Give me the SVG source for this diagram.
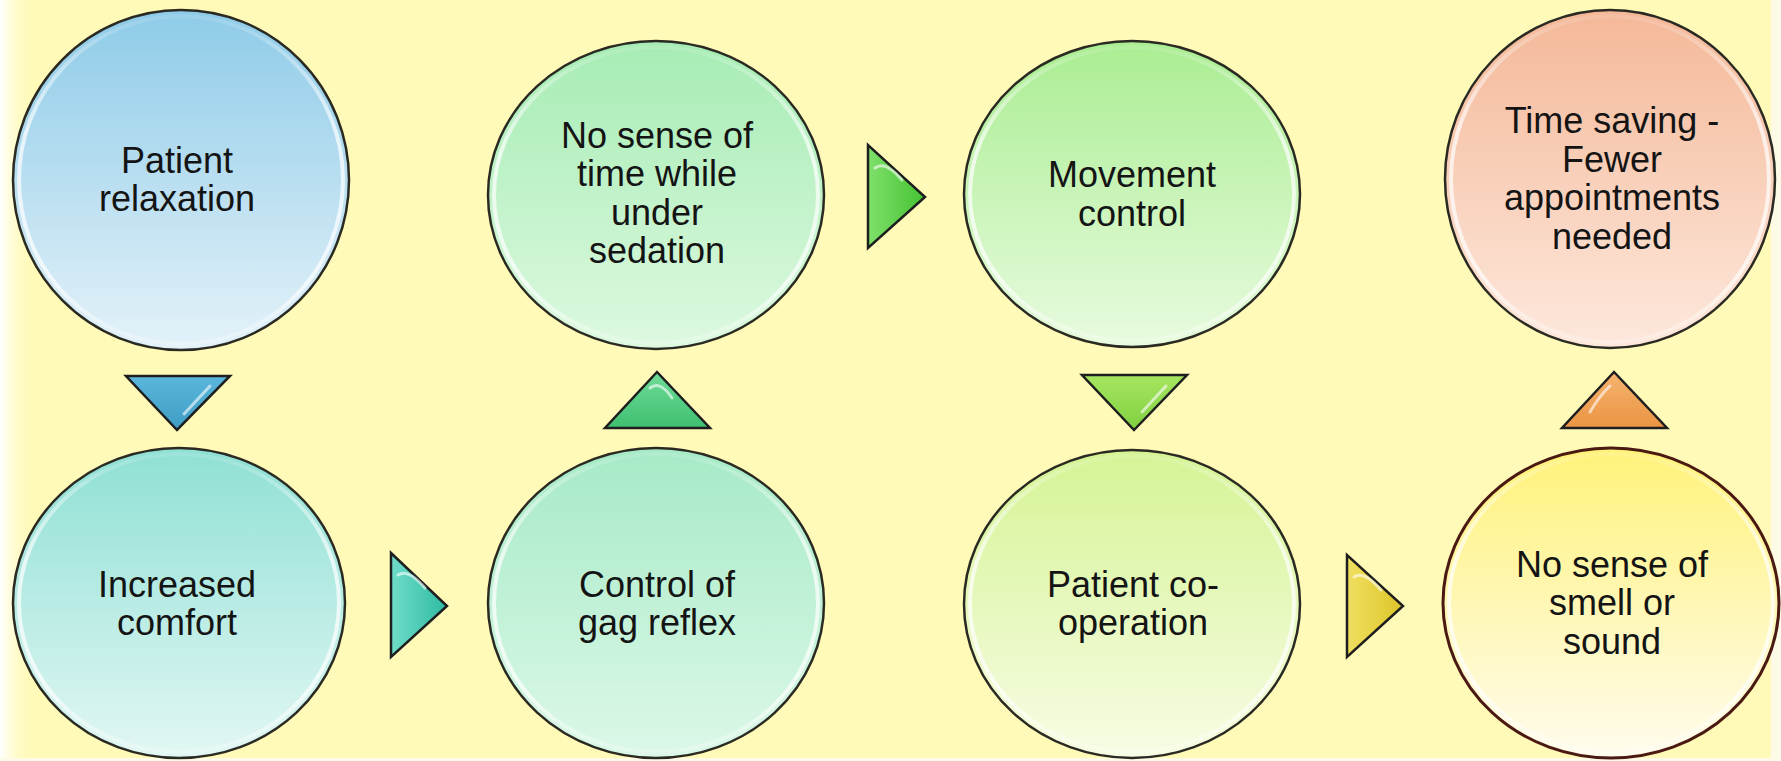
<svg xmlns="http://www.w3.org/2000/svg" width="1781" height="761" viewBox="0 0 1781 761">
<defs>
<style>
.c{stroke:#2a2a22;stroke-width:2.5}
.rim{fill:none;stroke:url(#rimg);stroke-width:4}
.t{font-family:"Liberation Sans",Arial,sans-serif;font-size:36px;fill:#141414;text-anchor:middle}
.a{stroke:#1e1e1e;stroke-width:2.5;stroke-linejoin:miter}
.hl{fill:none;stroke:#ffffff;stroke-opacity:0.6;stroke-width:3;stroke-linecap:round}
</style>
<linearGradient id="rimg" x1="0" y1="0" x2="0" y2="1"><stop offset="0" stop-color="#ffffff" stop-opacity="0.1"/><stop offset="0.35" stop-color="#ffffff" stop-opacity="0.7"/><stop offset="0.8" stop-color="#ffffff" stop-opacity="0.7"/><stop offset="1" stop-color="#ffffff" stop-opacity="0.2"/></linearGradient>
<linearGradient id="bgL" x1="0" y1="0" x2="1" y2="0"><stop offset="0" stop-color="#ffffff"/><stop offset="1" stop-color="#fffab8" stop-opacity="0"/></linearGradient>
<linearGradient id="g1" x1="0" y1="0" x2="0" y2="1"><stop offset="0" stop-color="#8ecbe8"/><stop offset="1" stop-color="#e4f2f9"/></linearGradient>
<linearGradient id="g2" x1="0" y1="0" x2="0" y2="1"><stop offset="0" stop-color="#8fe0d4"/><stop offset="1" stop-color="#e2f7f4"/></linearGradient>
<linearGradient id="g3" x1="0" y1="0" x2="0" y2="1"><stop offset="0" stop-color="#a6ecb4"/><stop offset="1" stop-color="#ddf9e0"/></linearGradient>
<linearGradient id="g4" x1="0" y1="0" x2="0" y2="1"><stop offset="0" stop-color="#a6eac6"/><stop offset="1" stop-color="#dcf8e8"/></linearGradient>
<linearGradient id="g5" x1="0" y1="0" x2="0" y2="1"><stop offset="0" stop-color="#aaed92"/><stop offset="1" stop-color="#e8fbdf"/></linearGradient>
<linearGradient id="g6" x1="0" y1="0" x2="0" y2="1"><stop offset="0" stop-color="#d5f495"/><stop offset="1" stop-color="#f7fce4"/></linearGradient>
<linearGradient id="g7" x1="0" y1="0" x2="0" y2="1"><stop offset="0" stop-color="#f4b898"/><stop offset="1" stop-color="#fde8dc"/></linearGradient>
<linearGradient id="g8" x1="0" y1="0" x2="0" y2="1"><stop offset="0" stop-color="#fff27a"/><stop offset="1" stop-color="#fffcee"/></linearGradient>
<linearGradient id="a1" x1="0" y1="0" x2="0" y2="1"><stop offset="0" stop-color="#5ab6dc"/><stop offset="1" stop-color="#3f9cc4"/></linearGradient>
<linearGradient id="a2" x1="0" y1="0" x2="1" y2="0"><stop offset="0" stop-color="#6fdcc8"/><stop offset="1" stop-color="#2fbba2"/></linearGradient>
<linearGradient id="a3" x1="0" y1="0" x2="0" y2="1"><stop offset="0" stop-color="#6fdc98"/><stop offset="1" stop-color="#3fc070"/></linearGradient>
<linearGradient id="a4" x1="0" y1="0" x2="1" y2="0"><stop offset="0" stop-color="#7fe06a"/><stop offset="1" stop-color="#44c232"/></linearGradient>
<linearGradient id="a5" x1="0" y1="0" x2="0" y2="1"><stop offset="0" stop-color="#a6e660"/><stop offset="1" stop-color="#80d040"/></linearGradient>
<linearGradient id="a6" x1="0" y1="0" x2="1" y2="0"><stop offset="0" stop-color="#f0e060"/><stop offset="1" stop-color="#dcc428"/></linearGradient>
<linearGradient id="a7" x1="0" y1="0" x2="0" y2="1"><stop offset="0" stop-color="#f6b470"/><stop offset="1" stop-color="#ea9442"/></linearGradient>
</defs>
<g id="background">
<rect x="0" y="0" width="1781" height="761" fill="#fffab8"/>
<rect x="0" y="0" width="36" height="761" fill="url(#bgL)"/>
<rect x="1771" y="0" width="10" height="761" fill="#fdfbe8"/>
<rect x="0" y="758" width="1781" height="3" fill="#fdfbe8"/>
</g>
<g id="connectors">
<g id="arrow1"><polygon class="a" points="126,376 230,376 177,430" fill="url(#a1)"/><path class="hl" d="M210,386 L184,414"/></g>
<g id="arrow2"><polygon class="a" points="391,553 391,657 447,606" fill="url(#a2)"/><path class="hl" d="M398,575 Q408,568 425,588"/></g>
<g id="arrow3"><polygon class="a" points="605,428 710,428 657,372" fill="url(#a3)"/><path class="hl" d="M650,388 Q660,380 672,398"/></g>
<g id="arrow4"><polygon class="a" points="868,145 868,248 925,197" fill="url(#a4)"/><path class="hl" d="M875,168 Q885,160 902,180"/></g>
<g id="arrow5"><polygon class="a" points="1082,375 1187,375 1134,430" fill="url(#a5)"/><path class="hl" d="M1166,386 L1142,412"/></g>
<g id="arrow6"><polygon class="a" points="1347,555 1347,657 1403,606" fill="url(#a6)"/><path class="hl" d="M1354,577 Q1364,570 1381,590"/></g>
<g id="arrow7"><polygon class="a" points="1562,428 1667,428 1614,372" fill="url(#a7)"/><path class="hl" d="M1610,386 Q1600,395 1590,412"/></g>
</g>
<g id="node1">
<ellipse class="c" cx="181" cy="180" rx="168" ry="170" fill="url(#g1)"/>
<ellipse class="rim" cx="181" cy="180" rx="162" ry="164"/>
<text class="t" x="177" y="173">Patient</text>
<text class="t" x="177" y="211">relaxation</text>
</g>
<g id="node2">
<ellipse class="c" cx="179" cy="603" rx="166" ry="155" fill="url(#g2)"/>
<ellipse class="rim" cx="179" cy="603" rx="160" ry="149"/>
<text class="t" x="177" y="597">Increased</text>
<text class="t" x="177" y="635">comfort</text>
</g>
<g id="node3">
<ellipse class="c" cx="656" cy="195" rx="168" ry="154" fill="url(#g3)"/>
<ellipse class="rim" cx="656" cy="195" rx="162" ry="148"/>
<text class="t" x="657" y="148">No sense of</text>
<text class="t" x="657" y="186">time while</text>
<text class="t" x="657" y="225">under</text>
<text class="t" x="657" y="263">sedation</text>
</g>
<g id="node4">
<ellipse class="c" cx="656" cy="603" rx="168" ry="155" fill="url(#g4)"/>
<ellipse class="rim" cx="656" cy="603" rx="162" ry="149"/>
<text class="t" x="657" y="597">Control of</text>
<text class="t" x="657" y="635">gag reflex</text>
</g>
<g id="node5">
<ellipse class="c" cx="1132" cy="194" rx="168" ry="153" fill="url(#g5)"/>
<ellipse class="rim" cx="1132" cy="194" rx="162" ry="147"/>
<text class="t" x="1132" y="187">Movement</text>
<text class="t" x="1132" y="226">control</text>
</g>
<g id="node6">
<ellipse class="c" cx="1132" cy="604" rx="168" ry="154" fill="url(#g6)"/>
<ellipse class="rim" cx="1132" cy="604" rx="162" ry="148"/>
<text class="t" x="1133" y="597">Patient co-</text>
<text class="t" x="1133" y="635">operation</text>
</g>
<g id="node7">
<ellipse class="c" cx="1610" cy="179" rx="165" ry="169" fill="url(#g7)"/>
<ellipse class="rim" cx="1610" cy="179" rx="159" ry="163"/>
<text class="t" x="1612" y="133">Time saving -</text>
<text class="t" x="1612" y="172">Fewer</text>
<text class="t" x="1612" y="210">appointments</text>
<text class="t" x="1612" y="249">needed</text>
</g>
<g id="node8">
<ellipse cx="1611" cy="603" rx="168" ry="155" fill="url(#g8)" stroke="#4a1a12" stroke-width="3"/>
<ellipse class="rim" cx="1611" cy="603" rx="162" ry="149"/>
<text class="t" x="1612" y="577">No sense of</text>
<text class="t" x="1612" y="615">smell or</text>
<text class="t" x="1612" y="654">sound</text>
</g>
</svg>
